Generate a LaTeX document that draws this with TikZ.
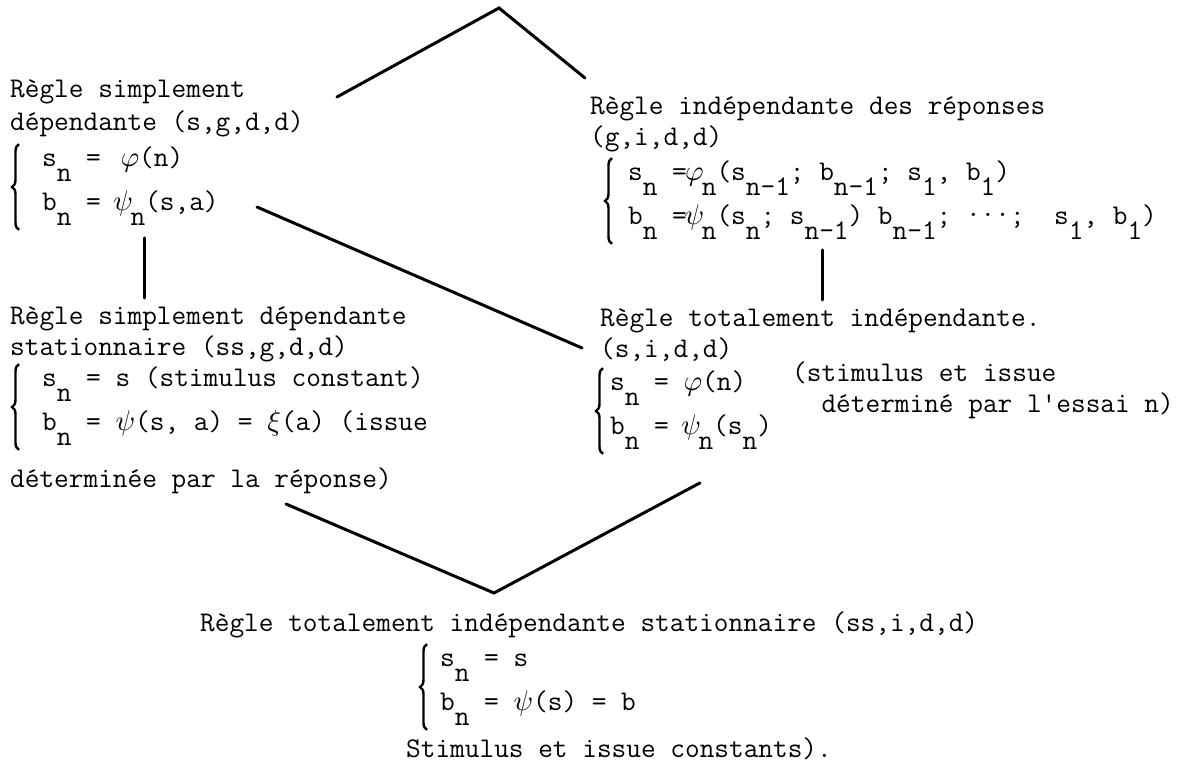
\documentclass[tikz,border=0pt]{standalone}
\usetikzlibrary{positioning}
\usetikzlibrary{calc}
\usetikzlibrary{decorations.pathreplacing}

\DeclareFontShape{OML}{cmm}{m}{it}{<->cmmi10}{}

\newcommand\typefont{\fontsize{28.5}{31}\selectfont\ttfamily}
\newcommand\dn[1]{\raisebox{-0.55em}{#1}}
% greek letter in its own cell, index after it
\newcommand\gk[2]{\makebox[0.525em]{$#1$}\dn{#2}}
% two lines of a system, #1 = left gap for the brace
\newcommand\syst[3]{%
  \begin{tabular}{@{\hspace{#1}}l@{}}#2\\[13pt]#3\end{tabular}}

\begin{document}
\begin{tikzpicture}[
    x=1pt, y=-1pt,
    regle/.style = {font=\typefont, align=left, inner sep=0pt, anchor=base west},
    systeme/.style = {font=\typefont, inner sep=0pt, anchor=west},
    trait/.style = {line width=3pt, line cap=round},
    accolade/.style = {decorate, decoration={brace, amplitude=7pt},
      line width=2.4pt},
  ]
  \useasboundingbox (0,0) rectangle (1187,768);

  \coordinate (top) at (499,8);
  \coordinate (bot) at (494,593);

  % simplement dependante
  \node[regle] (SG) at (10,131) {Règle simplement\\[2pt]dépendante (s,g,d,d)};
  \node[systeme] (SGs) at (12,185)
    {\syst{30pt}{s\dn{n} = \hspace{5pt}$\varphi$(n)}{b\dn{n} = \gk{\psi}{n}(s,a)}};

  % independante des reponses
  \node[regle] (GI) at (590,145) {Règle indépendante des réponses\\(g,i,d,d)};
  \node[systeme] (GIs) at (605,199)
    {\syst{23pt}{s\dn{n} =\gk{\varphi}{n}(s\dn{n–1}; b\dn{n–1}; s\dn{1}, b\dn{1})}%
          {b\dn{n} =\gk{\psi}{n}(s\dn{n}; s\dn{n–1}) b\dn{n–1}; \raisebox{.25em}{...}; ~s\dn{1}, b\dn{1})}};

  % simplement dependante stationnaire
  \node[regle] (SSG) at (10,355) {Règle simplement dépendante\\stationnaire (ss,g,d,d)};
  \node[systeme] (SSGs) at (12,405)
    {\syst{30pt}{s\dn{n} = s (stimulus constant)}{b\dn{n} = $\psi$(s, a) = $\xi$(a) (issue}};
  \node[regle] (SSGn) at (10,487) {déterminée par la réponse)};

  % totalement independante
  \node[regle] (SI) at (600,357) {Règle totalement indépendante.\\(s,i,d,d)};
  \node[systeme] (SIs) at (596,409)
    {\syst{14pt}{s\dn{n} = $\varphi$(n)}{b\dn{n} = \gk{\psi}{n}(s\dn{n})}};
  \node[regle] (SIn) at (792,412) {(stimulus et issue\\~~déterminé par l'essai n)};

  % totalement independante stationnaire
  \node[regle] (SSI) at (200,631) {Règle totalement indépendante stationnaire (ss,i,d,d)};
  \node[systeme] (SSIs) at (420,685)
    {\syst{20pt}{s\dn{n} = s}{b\dn{n} = $\psi$(s) = b}};
  \node[regle] (SSIn) at (406,757) {Stimulus et issue constants).};

  % accolades
  \foreach \s in {SGs, GIs, SSGs, SIs, SSIs}
    \draw[accolade] ([xshift=7pt, yshift=-4pt]\s.south west)
      -- ([xshift=7pt]\s.north west);

  \draw[trait] ($(SG.base east)+(33,-34)$) -- (top) -- ($(GI.base west)+(-5,-67)$);
  \draw[trait] ($(SGs.west)+(245,22)$) -- ($(SI.base west)+(-18,-9)$);
  \draw[trait] ($(SGs.south west)+(132,12)$) -- ($(SSG.base west)+(134,-57)$);
  \draw[trait] ($(GIs.south west)+(217,10)$) -- ($(SI.base west)+(222,-57)$);
  \draw[trait] ($(SSGn.base west)+(276,17)$) -- (bot) -- ($(SIs.south west)+(104,33)$);
\end{tikzpicture}
\end{document}
